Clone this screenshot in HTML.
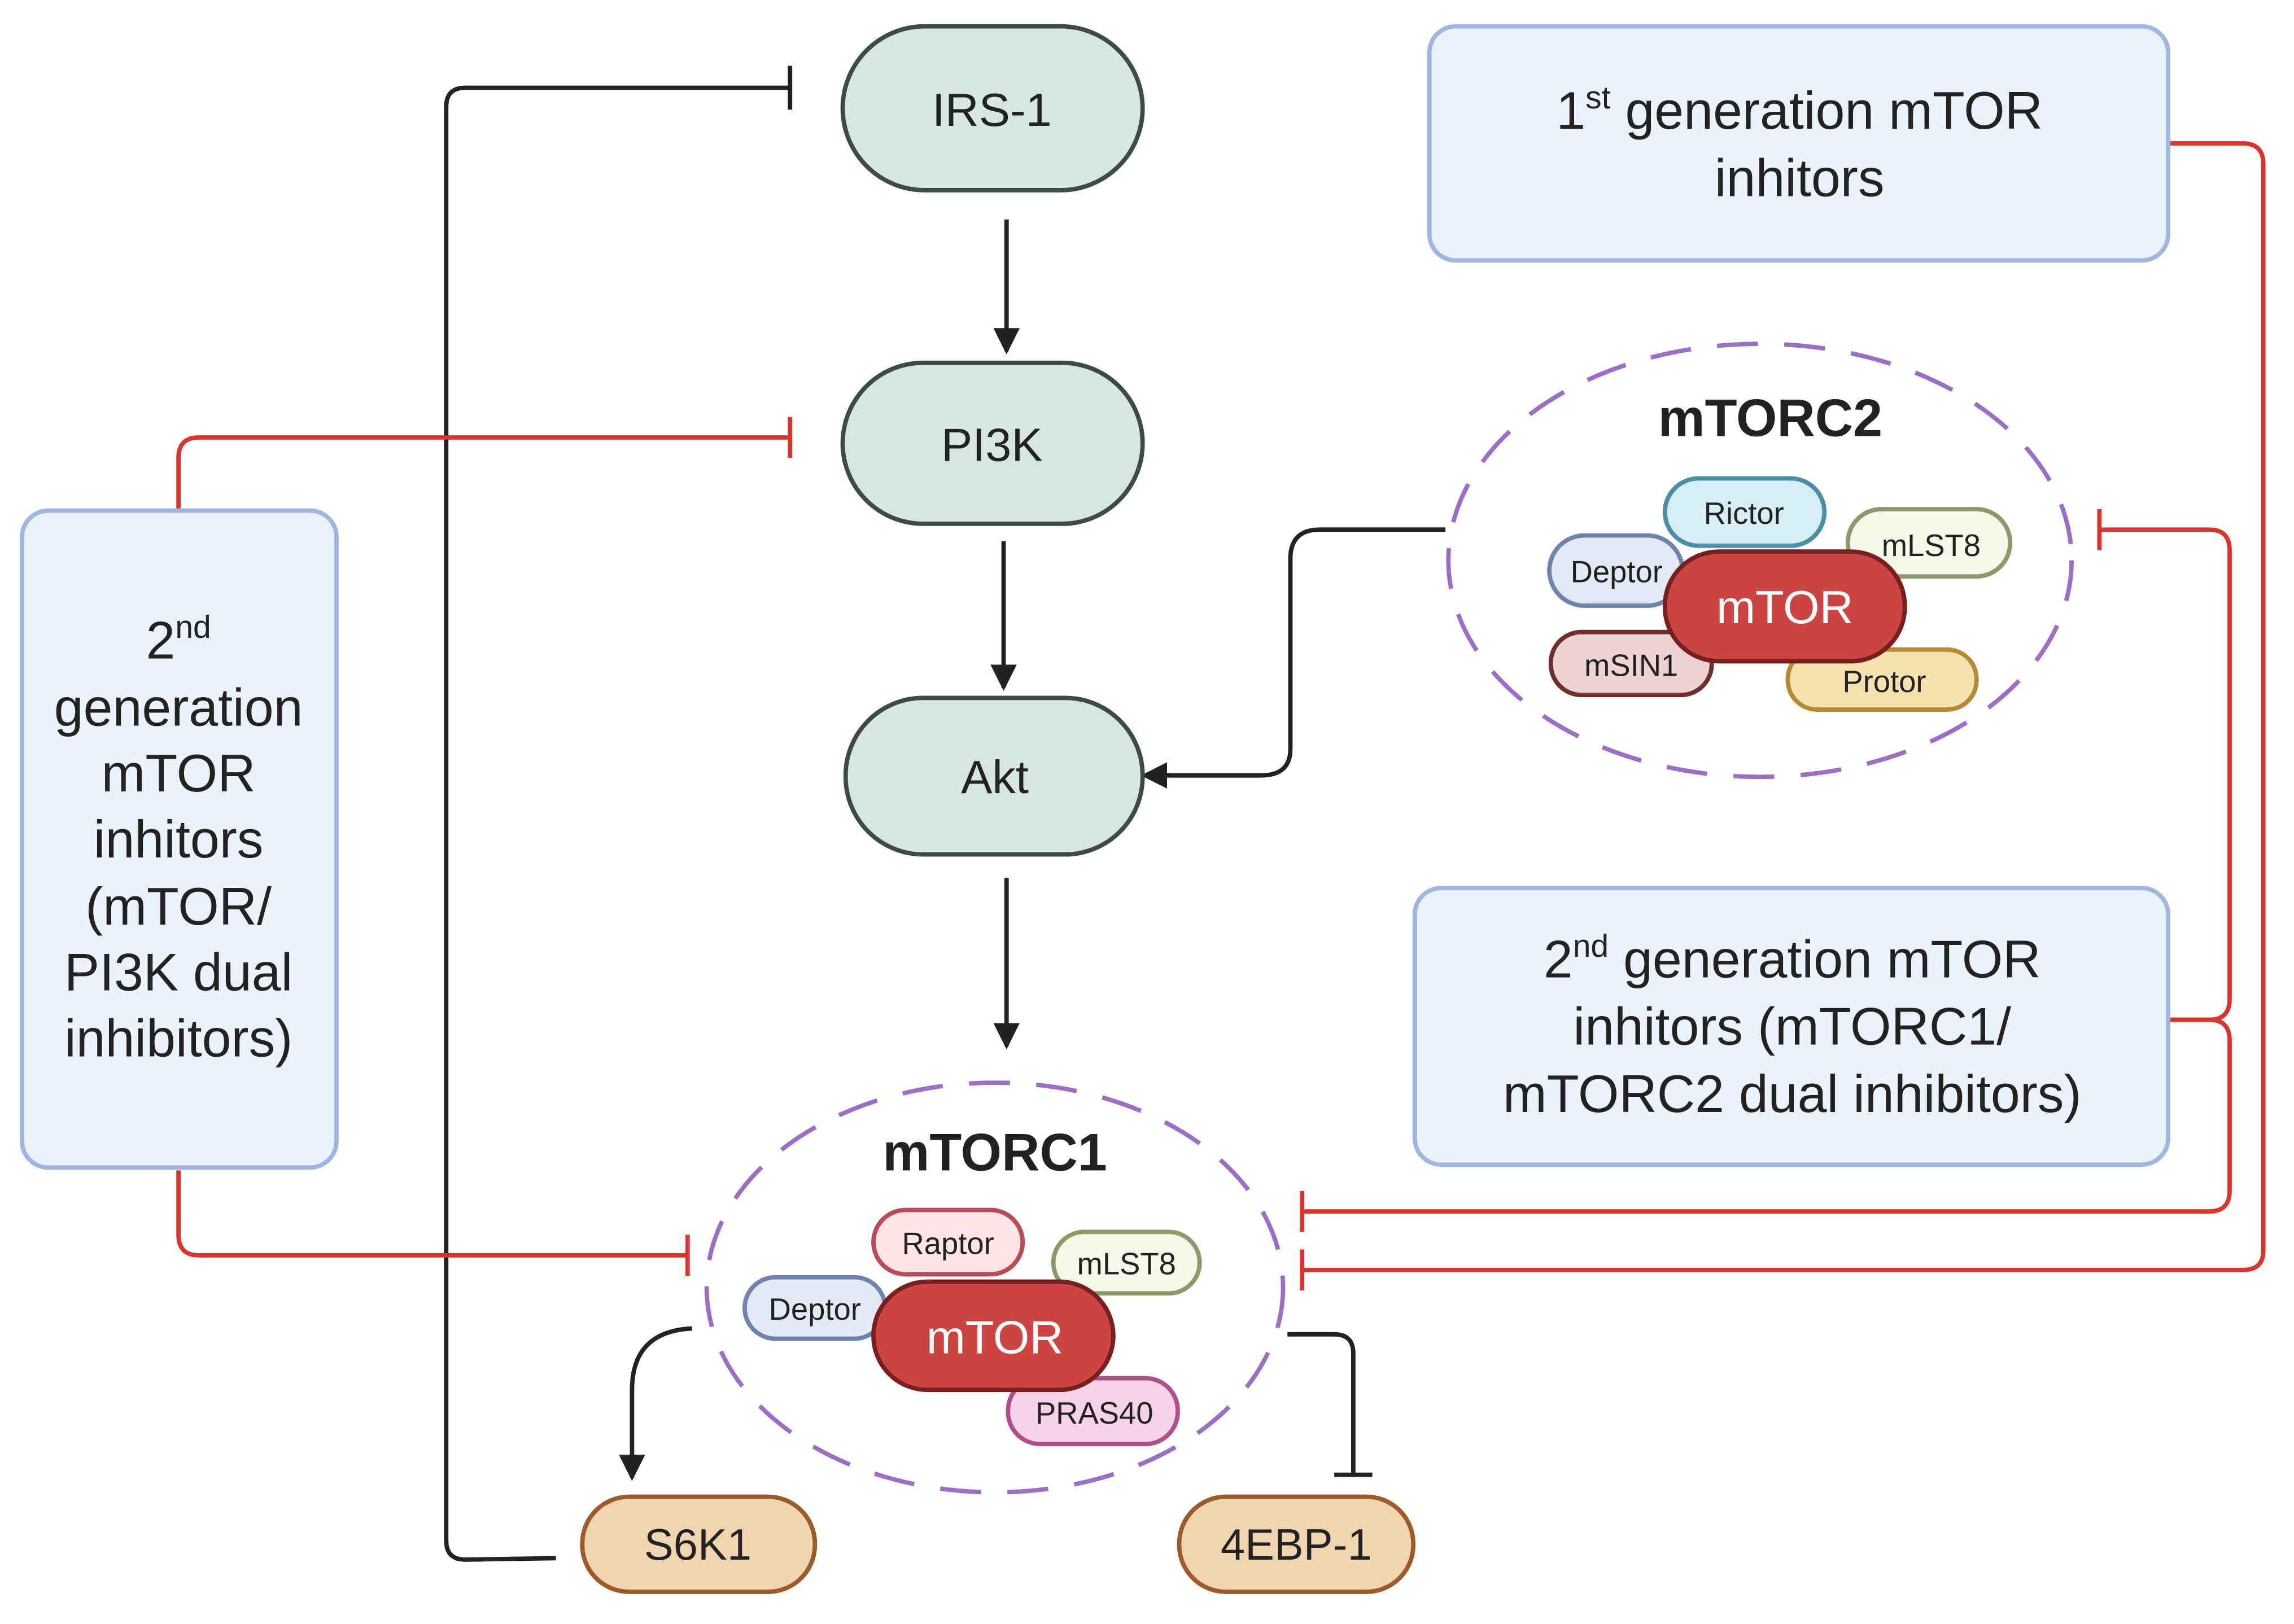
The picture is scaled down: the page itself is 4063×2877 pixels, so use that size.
<!DOCTYPE html>
<html><head><meta charset="utf-8"><style>
html,body{margin:0;padding:0;background:#fff;}
svg{display:block;}
text{font-family:"Liberation Sans",sans-serif;}
</style></head><body>
<svg width="4063" height="2877" viewBox="0 0 1568 1110" preserveAspectRatio="none" xmlns="http://www.w3.org/2000/svg">
<defs>
<marker id="ah" markerWidth="18" markerHeight="18" refX="14" refY="8" orient="auto" markerUnits="userSpaceOnUse" viewBox="0 0 16 16">
<path d="M0,0 L16,8 L0,16 z" fill="#222"/></marker>
</defs>
<g fill="none" stroke-width="3">
<path d="M380,1065 L318,1066 Q305,1066 305,1053 L305,73 Q305,60 318,60 L540,60" stroke="#222"/>
<line x1="540" y1="45" x2="540" y2="75" stroke="#222"/>
<line x1="688" y1="150" x2="688" y2="240" stroke="#222" marker-end="url(#ah)"/>
<line x1="686" y1="370" x2="686" y2="470" stroke="#222" marker-end="url(#ah)"/>
<line x1="688" y1="600" x2="688" y2="715" stroke="#222" marker-end="url(#ah)"/>
<path d="M988,362 L902,362 Q882,362 882,382 L882,512 Q882,530 862,530 L782,530" stroke="#222" marker-end="url(#ah)"/>
<path d="M473,908 Q432,910 432,950 L432,1010" stroke="#222" marker-end="url(#ah)"/>
<path d="M880,912 L912,912 Q925,912 925,925 L925,1008" stroke="#222"/>
<line x1="912" y1="1008" x2="938" y2="1008" stroke="#222"/>
<path d="M122,349 L122,313 Q122,299 136,299 L540,299" stroke="#d9352e"/>
<line x1="540" y1="285" x2="540" y2="313" stroke="#d9352e"/>
<path d="M122,800 L122,844 Q122,858 136,858 L470,858" stroke="#d9352e"/>
<line x1="470" y1="844" x2="470" y2="872" stroke="#d9352e"/>
<path d="M1482,98 L1533,98 Q1547,98 1547,112 L1547,855 Q1547,868 1533,868 L890,868" stroke="#d9352e"/>
<line x1="890" y1="854" x2="890" y2="882" stroke="#d9352e"/>
<path d="M1482,697 L1510,697 Q1524,697 1524,683 L1524,376 Q1524,362 1510,362 L1435,362" stroke="#d9352e"/>
<line x1="1435" y1="348" x2="1435" y2="376" stroke="#d9352e"/>
<path d="M1482,697 L1510,697 Q1524,697 1524,711 L1524,814 Q1524,828 1510,828 L890,828" stroke="#d9352e"/>
<line x1="890" y1="814" x2="890" y2="842" stroke="#d9352e"/>
<ellipse cx="1203" cy="383" rx="213" ry="148" stroke="#9b6fc4" stroke-dasharray="28,18"/>
<ellipse cx="680" cy="880" rx="197" ry="140" stroke="#9b6fc4" stroke-dasharray="28,18"/>
</g>
<g stroke="#3e4a48" stroke-width="3" fill="#d6e6e2">
<rect x="576" y="18" width="205" height="112" rx="56"/>
<rect x="576" y="248" width="205" height="110" rx="55"/>
<rect x="578" y="477" width="203" height="107" rx="53"/>
</g>
<g font-size="32" text-anchor="middle" fill="#222">
<text x="678" y="86">IRS-1</text>
<text x="678" y="315">PI3K</text>
<text x="680" y="542">Akt</text>
</g>
<g fill="#eaf2fb" stroke="#9fb6e0" stroke-width="3">
<rect x="977" y="18" width="505" height="160" rx="18"/>
<rect x="967" y="607" width="515" height="189" rx="18"/>
<rect x="15" y="349" width="215" height="449" rx="18"/>
</g>
<g font-size="36" text-anchor="middle" fill="#222">
<text x="1230" y="88">1<tspan font-size="22" dy="-14">st</tspan><tspan dy="14"> generation mTOR</tspan></text>
<text x="1230" y="134">inhitors</text>
<text x="1225" y="668">2<tspan font-size="22" dy="-14">nd</tspan><tspan dy="14"> generation mTOR</tspan></text>
<text x="1225" y="714">inhitors (mTORC1/</text>
<text x="1225" y="760">mTORC2 dual inhibitors)</text>
<text x="122" y="450">2<tspan font-size="22" dy="-14">nd</tspan></text>
<text x="122" y="496">generation</text>
<text x="122" y="541">mTOR</text>
<text x="122" y="586">inhitors</text>
<text x="122" y="632">(mTOR/</text>
<text x="122" y="677">PI3K dual</text>
<text x="122" y="722">inhibitors)</text>
</g>
<g font-size="36" font-weight="bold" text-anchor="middle" fill="#222">
<text x="1210" y="298">mTORC2</text>
<text x="680" y="800">mTORC1</text>
</g>
<g stroke-width="3">
<rect x="1138" y="327" width="109" height="46" rx="23" fill="#d8eef5" stroke="#4a8fa6"/>
<rect x="1263" y="348" width="111" height="46" rx="23" fill="#f6f8ea" stroke="#8c9a6a"/>
<rect x="1059" y="366" width="91" height="48" rx="24" fill="#e3e9f5" stroke="#6f84ad"/>
<rect x="1060" y="432" width="110" height="43" rx="21" fill="#eed3d3" stroke="#6e2e2e"/>
<rect x="1222" y="444" width="129" height="41" rx="20" fill="#f5e2b0" stroke="#b58a34"/>
<rect x="1138" y="377" width="164" height="75" rx="37" fill="#cc4545" stroke="#7a1f1f"/>
</g>
<g font-size="21" text-anchor="middle" fill="#222">
<text x="1192" y="358">Rictor</text>
<text x="1320" y="380">mLST8</text>
<text x="1105" y="398">Deptor</text>
<text x="1115" y="462">mSIN1</text>
<text x="1288" y="473">Protor</text>
</g>
<text x="1220" y="426" font-size="32" text-anchor="middle" fill="#fff">mTOR</text>
<g stroke-width="3">
<rect x="597" y="827" width="102" height="44" rx="22" fill="#fbe3e6" stroke="#b84a5a"/>
<rect x="720" y="842" width="100" height="42" rx="21" fill="#f6f8ea" stroke="#8c9a6a"/>
<rect x="509" y="873" width="96" height="42" rx="21" fill="#e3e9f5" stroke="#6f84ad"/>
<rect x="689" y="942" width="116" height="45" rx="22" fill="#f7d3ea" stroke="#b0508a"/>
<rect x="597" y="876" width="164" height="74" rx="37" fill="#cc4545" stroke="#7a1f1f"/>
</g>
<g font-size="21" text-anchor="middle" fill="#222">
<text x="648" y="857">Raptor</text>
<text x="770" y="871">mLST8</text>
<text x="557" y="902">Deptor</text>
<text x="748" y="973">PRAS40</text>
</g>
<text x="680" y="925" font-size="32" text-anchor="middle" fill="#fff">mTOR</text>
<g stroke="#9b5b2a" stroke-width="3" fill="#f1d5b1">
<rect x="398" y="1023" width="159" height="65" rx="32"/>
<rect x="806" y="1023" width="160" height="65" rx="32"/>
</g>
<g font-size="30" text-anchor="middle" fill="#222">
<text x="477" y="1066">S6K1</text>
<text x="886" y="1066">4EBP-1</text>
</g>
</svg>
</body></html>
